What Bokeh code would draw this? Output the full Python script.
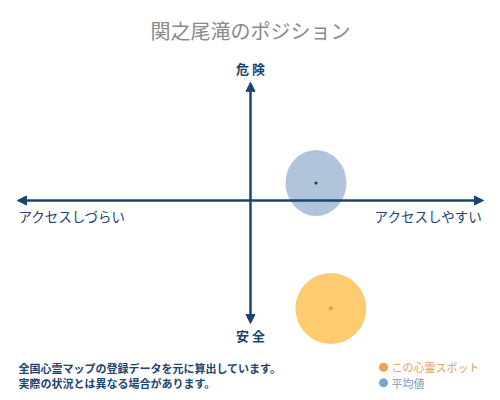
from bokeh.plotting import figure
from bokeh.models import Range1d, Arrow, NormalHead, Label, ColumnDataSource
from bokeh.embed import file_html
from bokeh.resources import INLINE

# ---- data ----
title_text = "関之尾滝のポジション"
axis_top = "危 険"
axis_bottom = "安 全"
axis_left = "アクセスしづらい"
axis_right = "アクセスしやすい"
note_lines = ["全国心霊マップの登録データを元に算出しています。",
              "実際の状況とは異なる場合があります。"]
series_names = ["この心霊スポット", "平均値"]
series_x = [3.45, 2.81]        # access score (+ = easy)
series_y = [-9.0, 1.46]        # danger score (+ = dangerous)
series_w = [71, 61]            # bubble width (px)
series_h = [71, 66]            # bubble height (px)
bubble_colors = ["#fecb70", "#b0c4dc"]
dot_colors = ["#f0a020", "#1a2f4a"]
dot_sizes = [4, 3]
legend_dot_colors = ["#f0a050", "#7aa6cc"]
legend_text_colors = ["#e0a060", "#7d98b5"]

NAVY = "#1c4470"
FONT = "Noto Sans CJK JP"

p = figure(width=500, height=400, output_backend="svg", toolbar_location=None,
           x_axis_type=None, y_axis_type=None,
           x_range=Range1d(-10.73, 10.73), y_range=Range1d(-16.67, 16.67),
           min_border=0, outline_line_color=None)
p.xgrid.visible = False
p.ygrid.visible = False
p.background_fill_color = "white"
p.border_fill_color = "white"

# axes with arrows
def head():
    return NormalHead(size=9, fill_color=NAVY, line_color=NAVY, line_width=1)

p.add_layout(Arrow(x_start=-10, y_start=0, x_end=10, y_end=0,
                   start=head(), end=head(), line_color=NAVY, line_width=2.5))
p.add_layout(Arrow(x_start=0, y_start=-10.25, x_end=0, y_end=9.85,
                   start=head(), end=head(), line_color=NAVY, line_width=2.5))

# bubbles
src = ColumnDataSource(dict(x=series_x, y=series_y, w=series_w, h=series_h,
                            c=bubble_colors, d=dot_colors, s=dot_sizes))
p.ellipse(x="x", y="y", width="w", height="h", width_units="screen",
          height_units="screen", fill_color="c", line_color=None, source=src)
p.scatter(x="x", y="y", size="s", fill_color="d", line_color=None, source=src)

# labels
def lab(x, y, text, size, color, align="center", weight="normal", baseline="middle"):
    p.add_layout(Label(x=x, y=y, text=text, text_font=FONT, text_font_size=size,
                       text_color=color, text_align=align, text_baseline=baseline,
                       text_font_style=weight))

lab(0, 14.17, title_text, "20px", "#8a8a8a")
lab(0, 11.0, axis_top, "13px", NAVY, weight="bold")
lab(0, -11.25, axis_bottom, "13px", NAVY, weight="bold")
lab(-9.96, -1.33, axis_left, "13.5px", NAVY, align="left")
lab(9.96, -1.33, axis_right, "13.5px", NAVY, align="right")

lab(-9.96, -14.0, note_lines[0], "11px", NAVY, align="left", weight="bold")
lab(-9.96, -15.25, note_lines[1], "11px", NAVY, align="left", weight="bold")

legend_y = [-13.9, -15.2]
p.scatter(x=[5.71, 5.71], y=legend_y, size=9, fill_color=legend_dot_colors, line_color=None)
for i in range(2):
    lab(6.05, legend_y[i], series_names[i], "11px", legend_text_colors[i], align="left")

open("out.html", "w").write(file_html(p, INLINE))
